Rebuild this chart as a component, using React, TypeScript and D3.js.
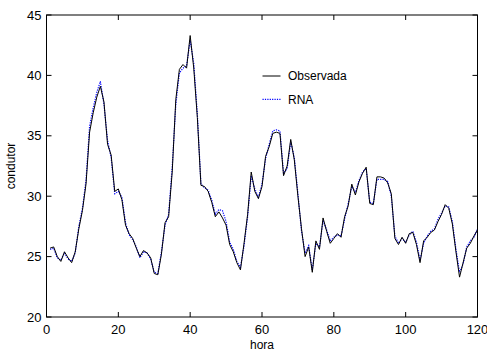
import * as d3 from 'd3';

const HOURS: number[] = d3.range(1, 121);

const OBSERVADA: number[] = [
  25.7, 25.8, 25.0, 24.6, 25.4, 24.9, 24.5, 25.4, 27.3, 28.8,
  31.0, 35.3, 36.9, 38.2, 39.1, 37.8, 34.3, 33.4, 30.4, 30.6,
  29.7, 27.6, 26.9, 26.5, 25.7, 25.0, 25.5, 25.3, 24.9, 23.6,
  23.5, 25.2, 27.8, 28.3, 32.0, 38.0, 40.5, 40.9, 40.6, 43.3,
  40.6, 36.5, 30.9, 30.8, 30.4, 29.5, 28.3, 28.7, 28.2, 27.6,
  26.0, 25.4, 24.5, 23.9, 26.1, 28.5, 32.0, 30.4, 29.8, 30.8,
  33.3, 34.1, 35.2, 35.3, 35.2, 31.7, 32.5, 34.7, 33.0, 30.0,
  27.3, 25.0, 25.8, 23.7, 26.3, 25.6, 28.2, 27.1, 26.1, 26.5,
  26.9, 26.6, 28.3, 29.2, 31.0, 30.1, 31.2, 31.9, 32.4, 29.4,
  29.3, 31.6, 31.6, 31.5, 31.1, 30.2, 26.5, 26.0, 26.6, 26.1,
  26.9, 27.0, 26.0, 24.5, 26.3, 26.6, 27.0, 27.2, 27.9, 28.5,
  29.3, 29.0, 27.7, 25.4, 23.3, 24.5, 25.7, 26.1, 26.7, 27.2,
];

const RNA: number[] = [
  25.6, 25.7, 24.9, 24.7, 25.3, 24.8, 24.6, 25.3, 27.5, 29.0,
  31.3, 35.8, 37.3, 38.6, 39.5, 37.6, 34.6, 33.2, 30.2, 30.4,
  29.9, 27.8, 26.8, 26.4, 25.8, 24.9, 25.4, 25.3, 24.8, 23.7,
  23.6, 25.4, 27.6, 28.5, 32.4, 37.6, 40.2, 40.6, 40.8, 42.9,
  41.0, 36.8, 31.0, 30.7, 30.5, 29.7, 28.5, 28.9, 28.8, 27.9,
  26.2, 25.6, 24.6, 24.1, 25.9, 28.3, 31.7, 30.6, 29.9, 31.0,
  33.1, 34.3, 35.4, 35.5, 35.4, 31.9, 32.3, 34.5, 33.2, 30.2,
  27.1, 25.3, 25.9, 23.9, 26.1, 25.8, 28.0, 27.2, 26.3, 26.6,
  26.8, 26.7, 28.1, 29.4, 30.8, 30.3, 31.3, 32.0, 32.3, 29.5,
  29.4, 31.4, 31.4, 31.4, 31.2, 30.0, 26.7, 26.1, 26.5, 26.2,
  26.8, 27.1, 26.2, 24.7, 26.1, 26.7, 27.1, 27.3, 28.1, 28.6,
  29.2, 29.1, 27.9, 25.6, 23.7, 24.4, 25.8, 26.3, 26.6, 27.3,
];

const X_TICKS: number[] = [0, 20, 40, 60, 80, 100, 120];
const Y_TICKS: number[] = [20, 25, 30, 35, 40, 45];
const LEGEND: string[] = ['Observada', 'RNA'];

export default function App() {
  const w = 487;
  const h = 352;
  const margin = { top: 15, right: 9.5, bottom: 35, left: 46.5 };
  const innerW = w - margin.left - margin.right;
  const innerH = h - margin.top - margin.bottom;

  const x = d3.scaleLinear().domain([0, 120]).range([0, innerW]);
  const y = d3.scaleLinear().domain([20, 45]).range([innerH, 0]);

  const line = d3.line<number>()
    .x((_, i) => x(HOURS[i]))
    .y(d => y(d));

  const font = 'Liberation Sans, Arial, sans-serif';
  const tick = 5;

  return (
    <div style={{ position: 'absolute', left: 0, top: 0 }}>
      <svg width={w} height={h} style={{ display: 'block', background: '#fff' }}>
        <g transform={`translate(${margin.left},${margin.top})`}>
          {/* RNA dotted line */}
          <path d={line(RNA) ?? ''} fill="none" stroke="#0000ff" strokeWidth={1.2} strokeDasharray="1.2,1.2" />
          {/* Observada line */}
          <path d={line(OBSERVADA) ?? ''} fill="none" stroke="#000" strokeWidth={1} strokeLinejoin="round" />

          {/* Frame */}
          <rect x={0} y={0} width={innerW} height={innerH} fill="none" stroke="#000" strokeWidth={1} />

          {/* X ticks */}
          {X_TICKS.map(t => (
            <g key={`x-${t}`}>
              <line x1={x(t)} x2={x(t)} y1={innerH} y2={innerH - tick} stroke="#000" />
              <line x1={x(t)} x2={x(t)} y1={0} y2={tick} stroke="#000" />
              <text x={x(t)} y={innerH + 17} textAnchor="middle" fontSize={13} fontFamily={font} fill="#000">
                {t}
              </text>
            </g>
          ))}

          {/* Y ticks */}
          {Y_TICKS.map(t => (
            <g key={`y-${t}`}>
              <line x1={0} x2={tick} y1={y(t)} y2={y(t)} stroke="#000" />
              <line x1={innerW} x2={innerW - tick} y1={y(t)} y2={y(t)} stroke="#000" />
              <text x={-5} y={y(t)} dy="0.35em" textAnchor="end" fontSize={13} fontFamily={font} fill="#000">
                {t}
              </text>
            </g>
          ))}

          {/* Axis labels */}
          <text x={x(60)} y={innerH + 32} textAnchor="middle" fontSize={12} fontFamily={font} fill="#000">
            hora
          </text>
          <text
            transform={`translate(${-32},${innerH / 2}) rotate(-90)`}
            textAnchor="middle" fontSize={12} fontFamily={font} fill="#000"
          >
            condutor
          </text>

          {/* Legend */}
          {LEGEND.map((name, i) => {
            const ly = 61 + i * 23.3;
            return (
              <g key={name}>
                <line
                  x1={216} x2={234} y1={ly} y2={ly}
                  stroke={i === 0 ? '#000' : '#0000ff'}
                  strokeWidth={i === 0 ? 1 : 1.2}
                  strokeDasharray={i === 0 ? undefined : '1.2,1.2'}
                />
                <text x={241.5} y={ly} dy="0.35em" fontSize={12} fontFamily={font} fill="#000">
                  {name}
                </text>
              </g>
            );
          })}
        </g>
      </svg>
    </div>
  );
}
